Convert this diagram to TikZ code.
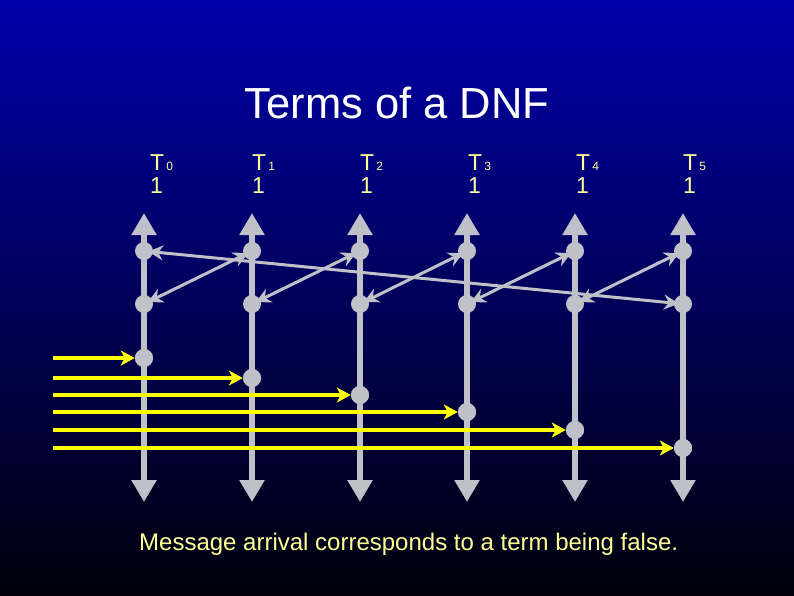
\documentclass[tikz,border=0pt]{standalone}
\usepackage{fontspec}
\setmainfont{Liberation Sans}
\usetikzlibrary{arrows.meta}
\definecolor{bgtop}{RGB}{0,0,170}
\definecolor{bgmid}{RGB}{0,0,115}
\definecolor{bgbot}{RGB}{0,0,10}
\definecolor{linegray}{RGB}{192,192,200}
\definecolor{paleyellow}{RGB}{255,255,150}
\definecolor{msgyellow}{RGB}{255,255,0}
\begin{document}
\begin{tikzpicture}[x=1pt,y=-1pt,
  dot/.style={circle,fill=linegray,minimum size=18pt,inner sep=0pt},
  timeline/.style={draw=linegray,line width=6pt,
    {Triangle[width=24pt,length=22pt]}-{Triangle[width=24pt,length=22pt]}},
  xarrow/.style={draw=linegray,line width=3pt,
    {Stealth[length=15pt,width=15pt,inset=5pt]}-{Stealth[length=15pt,width=15pt,inset=5pt]},
    shorten >=-5pt,shorten <=-5pt},
  msg/.style={draw=msgyellow,line width=4pt,-{Stealth[length=14pt,width=15pt,inset=4pt]}},
  termlabel/.style={text=paleyellow,inner sep=0pt,anchor=base west,font=\fontsize{23}{24}\selectfont},
  titletext/.style={text=white,inner sep=0pt,anchor=base,font=\fontsize{43.5}{50}\selectfont},
  caption/.style={text=paleyellow,inner sep=0pt,anchor=base west,font=\fontsize{24}{28}\selectfont}]
\useasboundingbox (0,0) rectangle (794,595);
\shade[top color=bgtop,middle color=bgmid,bottom color=bgbot] (0,0) rectangle (794,595);

\node[titletext] (title) at (397,118) {Terms of a DNF};

% timelines
\foreach \x [count=\i from 0] in {144,252,360,467,575,683} {
  \coordinate (t\i) at (\x,213);
  \coordinate (b\i) at (\x,502);
  \draw[timeline] (t\i) -- (b\i);
}

% term labels
\foreach \x/\lx [count=\i from 0] in {144/150,252/252,360/360,467/468,575/576,683/683} {
  \node[termlabel] (T\i) at (\lx,170) {T\kern2pt{\fontsize{12}{12}\selectfont \i}};
  \node[termlabel] (v\i) at (\lx,193) {1};
}

% message dots and yellow arrows
\foreach \x/\y [count=\i from 0] in {144/358,252/378,360/395,467/412,575/430,683/448} {
  \coordinate (s\i) at (53,\y);
  \node[dot] (m\i) at (\x,\y) {};
}
\foreach \i in {0,...,5} {
  \draw[msg] (s\i) -- (m\i);
}
\foreach \x [count=\i from 0] in {144,252,360,467,575,683} {
  \node[dot] (m\i) at (m\i) {};
}

% upper and lower dots
\foreach \x [count=\i from 0] in {144,252,360,467,575,683} {
  \node[dot] (u\i) at (\x,251) {};
  \node[dot] (l\i) at (\x,304) {};
}

% control arrows
\foreach \i/\j in {0/1,1/2,2/3,3/4,4/5} {
  \draw[xarrow] (l\i) -- (u\j);
}
\draw[xarrow] (u0) -- (l5);

\node[caption] (cap) at (139,550) {Message arrival corresponds to a term being false.};
\end{tikzpicture}
\end{document}
